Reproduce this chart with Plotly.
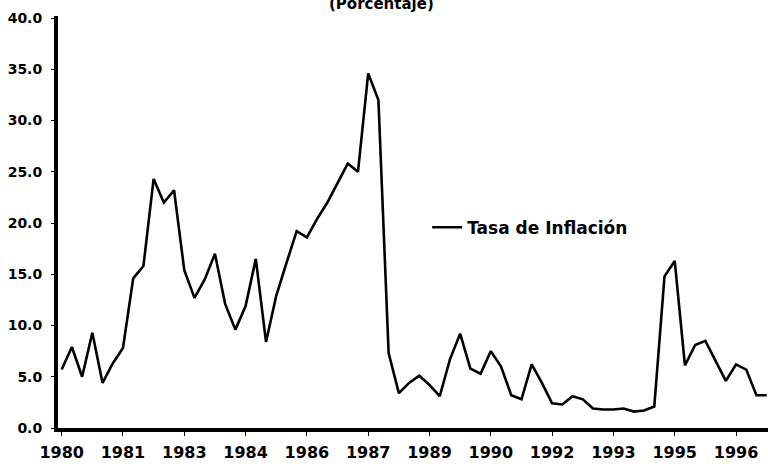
import plotly.graph_objects as go

# Quarterly inflation rate (percent), 1980-I onward
inflation = [5.7, 7.9, 5.0, 9.3, 4.4, 6.3, 7.8, 14.6, 15.8, 24.3,
             22.0, 23.2, 15.4, 12.7, 14.5, 17.0, 12.1, 9.6, 11.9, 16.5,
             8.4, 12.9, 16.1, 19.2, 18.6, 20.4, 22.0, 23.9, 25.8, 25.0,
             34.6, 32.0, 7.3, 3.4, 4.4, 5.1, 4.2, 3.1, 6.7, 9.2,
             5.8, 5.3, 7.5, 6.0, 3.2, 2.8, 6.2, 4.4, 2.4, 2.3,
             3.1, 2.8, 1.9, 1.8, 1.8, 1.9, 1.6, 1.7, 2.1, 14.8,
             16.3, 6.1, 8.1, 8.5, 6.6, 4.6, 6.2, 5.7, 3.2, 3.2]

quarters = [f"{1980 + k // 4}-Q{k % 4 + 1}" for k in range(len(inflation))]
tick_labels = ["1980", "1981", "1983", "1984", "1986", "1987",
               "1989", "1990", "1992", "1993", "1995", "1996"]
tick_cats = quarters[::6][:len(tick_labels)]
y_ticks = [0, 5, 10, 15, 20, 25, 30, 35, 40]

FONT = "DejaVu Sans"

fig = go.Figure()
fig.add_trace(go.Scatter(
    x=quarters, y=inflation, mode="lines", name="Tasa de Inflación",
    line=dict(color="black", width=2.6),
))

fig.update_layout(
    width=768, height=464,
    margin=dict(l=58, r=0, t=16, b=36),
    paper_bgcolor="white", plot_bgcolor="white",
    font=dict(family=FONT, color="black", weight="bold"),
    showlegend=True,
    legend=dict(x=0.52, y=0.486, xanchor="left", yanchor="middle",
                bgcolor="rgba(0,0,0,0)", itemwidth=30,
                font=dict(family=FONT, size=17, weight="bold", color="black")),
    annotations=[dict(text="(Porcentaje)", xref="paper", yref="paper",
                      x=0.456, y=1, xanchor="center", yanchor="bottom",
                      yshift=1, showarrow=False,
                      font=dict(family=FONT, size=15, weight="bold", color="black"))],
)
fig.update_xaxes(
    type="category", categoryorder="array", categoryarray=quarters,
    range=[-0.36, len(inflation) - 0.87],
    tickmode="array", tickvals=tick_cats, ticktext=tick_labels,
    tickfont=dict(family=FONT, size=16, weight="bold", color="black"),
    ticklabelstandoff=3,
    showline=True, linecolor="black", linewidth=4,
    ticks="outside", ticklen=4, tickwidth=1, tickcolor="black",
    showgrid=False, zeroline=False,
)
fig.update_yaxes(
    range=[0, 40.2], tickmode="array", tickvals=y_ticks, tickformat=".1f",
    tickfont=dict(family=FONT, size=14, weight="bold", color="black"),
    ticklabelstandoff=6,
    showline=True, linecolor="black", linewidth=4,
    ticks="outside", ticklen=3, tickwidth=1, tickcolor="black",
    showgrid=False, zeroline=False,
)

fig.write_html("out.html", config={"displayModeBar": False},
               post_script="document.body.style.margin='0';document.body.style.overflow='hidden';")
